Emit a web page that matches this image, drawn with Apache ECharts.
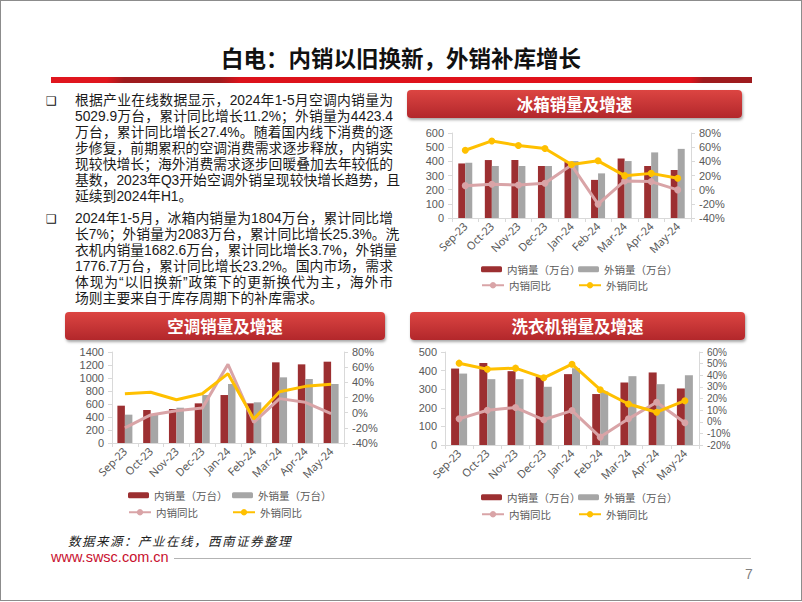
<!DOCTYPE html>
<html><head><meta charset="utf-8">
<script src="https://cdn.jsdelivr.net/npm/echarts@6/dist/echarts.min.js"></script>
<style>
html,body{margin:0;padding:0;background:#fff;}
#page{position:relative;width:802px;height:602px;overflow:hidden;font-family:"Noto Sans CJK SC","Noto Sans",sans-serif;background:#fff;}
#frame{position:absolute;left:0;top:0;width:800px;height:599px;border:1px solid #8c8c8c;}
#title{position:absolute;left:0;width:802px;top:42px;text-align:center;font-size:22.5px;font-weight:bold;color:#111;line-height:30px;}
#rule{position:absolute;left:51px;top:77px;width:701px;height:6px;background:linear-gradient(100deg,#e0161e 0%,#e0161e 8%,#9e1b1e 10.5%,#9e1b1e 24%,#dc121b 27%,#e3111b 91%,#9e1b1e 93%,#9e1b1e 100%);}
.para{position:absolute;left:75px;width:318px;font-family:"Liberation Sans","Noto Sans CJK SC",sans-serif;font-size:13.8px;line-height:16px;color:#1a1a1a;}
.para div{height:16px;text-align:justify;text-align-last:justify;white-space:nowrap;}
.para div.last{text-align-last:left;}
.bul{position:absolute;left:46px;font-family:"DejaVu Sans";font-size:12px;color:#111;line-height:16px;}
.hdr{position:absolute;height:28px;border-radius:4px;background:linear-gradient(#dc4542,#b2272b);box-shadow:1px 2px 3px rgba(0,0,0,0.35);color:#fff;font-weight:bold;font-size:16.5px;line-height:28px;text-align:center;}
#src{position:absolute;left:68px;top:531px;font-size:12.5px;font-style:italic;color:#222;letter-spacing:1.5px;font-family:"Noto Sans CJK SC";}
#web{position:absolute;left:51px;top:549px;font-size:14.5px;color:#c8102e;font-family:"Liberation Sans",Arial,sans-serif;}
#fline{position:absolute;left:174px;top:558px;width:577px;height:1px;background:#b3b3b3;}
#pnum{position:absolute;left:745px;top:566px;font-size:14px;color:#7f7f7f;font-family:"Liberation Sans",sans-serif;}
#chart{position:absolute;left:0;top:0;width:802px;height:602px;}
</style></head>
<body><div id="page">
<div id="frame"></div>
<div id="title">白电：内销以旧换新，外销补库增长</div>
<div id="rule"></div>
<div class="bul" style="top:93px">❑</div>
<div class="para" style="top:93px">
<div>根据产业在线数据显示，2024年1-5月空调内销量为</div>
<div>5029.9万台，累计同比增长11.2%；外销量为4423.4</div>
<div>万台，累计同比增长27.4%。随着国内线下消费的逐</div>
<div>步修复，前期累积的空调消费需求逐步释放，内销实</div>
<div>现较快增长；海外消费需求逐步回暖叠加去年较低的</div>
<div>基数，2023年Q3开始空调外销呈现较快增长趋势，且</div>
<div class="last">延续到2024年H1。</div>
</div>
<div class="bul" style="top:211px">❑</div>
<div class="para" style="top:211px">
<div>2024年1-5月，冰箱内销量为1804万台，累计同比增</div>
<div>长7%；外销量为2083万台，累计同比增长25.3%。洗</div>
<div>衣机内销量1682.6万台，累计同比增长3.7%，外销量</div>
<div>1776.7万台，累计同比增长23.2%。国内市场，需求</div>
<div>体现为“以旧换新”政策下的更新换代为主，海外市</div>
<div class="last">场则主要来自于库存周期下的补库需求。</div>
</div>
<div class="hdr" style="left:407px;top:90px;width:335px;">冰箱销量及增速</div>
<div class="hdr" style="left:65px;top:312px;width:320px;">空调销量及增速</div>
<div class="hdr" style="left:410px;top:312px;width:335px;">洗衣机销量及增速</div>
<div id="src">数据来源：产业在线，西南证券整理</div>
<div id="web">www.swsc.com.cn</div>
<div id="fline"></div>
<div id="pnum">7</div>
<div id="chart"></div>
</div>
<script>
// ---- data ----
var categories = ['Sep-23','Oct-23','Nov-23','Dec-23','Jan-24','Feb-24','Mar-24','Apr-24','May-24'];
var legendNames = ['内销量（万台）','外销量（万台）','内销同比','外销同比'];

var fridgeDomestic = [385, 409, 409, 367, 397, 269, 420, 367, 339];
var fridgeExport   = [390, 367, 367, 367, 402, 315, 402, 463, 488];
var fridgeDomYoY   = [5.7, 7.6, 6.7, 9.0, 34.7, -20.4, 12.3, 11.4, -0.3];
var fridgeExpYoY   = [55.7, 68.8, 62.3, 58.0, 35.6, 40.7, 19.8, 23.0, 16.0];
var fridgeLeftTicks = [0, 600, 100];
var fridgeRightTicks = [-40, 80, 20];

var acDomestic = [574, 508, 523, 610, 738, 610, 1241, 1210, 1251];
var acExport   = [436, 440, 543, 738, 908, 626, 1010, 985, 908];
var acDomYoY   = [-20.0, -3.0, 2.6, 6.0, 63.7, -12.7, 18.5, 13.6, -1.3];
var acExpYoY   = [25.0, 27.0, 17.0, 25.0, 51.4, -8.4, 27.7, 34.7, 37.4];
var acLeftTicks = [0, 1400, 200];
var acRightTicks = [-40, 80, 20];

var washDomestic = [411, 441, 397, 368, 381, 274, 336, 390, 304];
var washExport   = [384, 354, 354, 313, 413, 288, 370, 327, 375];
var washDomYoY   = [2.5, 9.9, 12.2, 1.7, 9.6, -13.2, 2.5, 16.8, -0.9];
var washExpYoY   = [50.4, 45.2, 46.1, 37.8, 49.5, 27.6, 15.3, 8.2, 18.1];
var washLeftTicks = [0, 500, 100];
var washRightTicks = [-20, 60, 10];

// ---- styles ----
var C_DOM = '#9c2f31', C_EXP = '#a6a6a6', C_DOMY = '#d9a4a7', C_EXPY = '#ffc000';
var AX = '#d9d9d9', LBL = '#595959';

var option = {grid:[], xAxis:[], yAxis:[], series:[], legend:[], animation:false};

function addChart(key, g, dom, exp, domY, expY, lt, rt, withSymbol, barW, leg, rFont){
  var gi = option.grid.length;
  option.grid.push({left:g[0], top:g[1], width:g[2], height:g[3], containLabel:false});
  option.xAxis.push({type:'category', gridIndex:gi, data:categories,
    axisLine:{lineStyle:{color:AX}}, axisTick:{show:true, length:4, lineStyle:{color:AX}},
    axisLabel:{rotate:45, color:LBL, fontSize:11, margin:6, interval:0, fontFamily:'Noto Sans'}});
  var yi = option.yAxis.length;
  option.yAxis.push({type:'value', gridIndex:gi, min:lt[0], max:lt[1], interval:lt[2],
    axisLine:{show:true, lineStyle:{color:AX}}, axisTick:{show:true, length:4, lineStyle:{color:AX}},
    splitLine:{show:false}, axisLabel:{color:LBL, fontSize:11, lineHeight:11, margin:8, fontFamily:'Liberation Sans',
      formatter:function(v){return String(v);}}});
  option.yAxis.push({type:'value', gridIndex:gi, position:'right', min:rt[0], max:rt[1], interval:rt[2],
    axisLine:{show:true, lineStyle:{color:AX}}, axisTick:{show:true, length:4, lineStyle:{color:AX}},
    splitLine:{show:false}, axisLabel:{color:LBL, fontSize:rFont, lineHeight:rFont, margin:8, fontFamily:'Liberation Sans',
      formatter:function(v){return v+'%';}}});
  var n = legendNames.map(function(s){return key+'|'+s;});
  option.series.push({name:n[0], type:'bar', xAxisIndex:gi, yAxisIndex:yi, data:dom, barWidth:barW, barGap:'0%', itemStyle:{color:C_DOM}});
  option.series.push({name:n[1], type:'bar', xAxisIndex:gi, yAxisIndex:yi, data:exp, barWidth:barW, barGap:'0%', itemStyle:{color:C_EXP}});
  option.series.push({name:n[2], type:'line', xAxisIndex:gi, yAxisIndex:yi+1, data:domY, z:5,
    showSymbol:withSymbol, symbol:withSymbol?'circle':'none', symbolSize:7,
    lineStyle:{color:C_DOMY, width:3}, itemStyle:{color:C_DOMY}});
  option.series.push({name:n[3], type:'line', xAxisIndex:gi, yAxisIndex:yi+1, data:expY, z:6,
    showSymbol:withSymbol, symbol:withSymbol?'circle':'none', symbolSize:7,
    lineStyle:{color:C_EXPY, width:3}, itemStyle:{color:C_EXPY}});
  for (var i=0;i<4;i++){
    var isBar = i<2;
    option.legend.push({data:[n[i]], left:leg[i][0], top:leg[i][1]-7, padding:0, selectedMode:false,
      itemWidth:isBar?21:22, itemHeight:isBar?6:8,
      formatter:function(s){return s.split('|')[1];},
      textStyle:{color:LBL, fontSize:10.5, fontFamily:'Noto Sans CJK SC', padding:[0,0,0,0]}});
  }
}

addChart('fr', [452,133,239,85], fridgeDomestic, fridgeExport, fridgeDomYoY, fridgeExpYoY,
  fridgeLeftTicks, fridgeRightTicks, true, 7, [[481,271],[578,271],[481,287],[578,287]], 11);
addChart('ac', [112,352,232,91], acDomestic, acExport, acDomYoY, acExpYoY,
  acLeftTicks, acRightTicks, false, 7.5, [[128,497],[232,497],[128,514],[232,514]], 11);
addChart('wa', [445,352,254,93], washDomestic, washExport, washDomYoY, washExpYoY,
  washLeftTicks, washRightTicks, true, 8, [[481,499],[578,499],[481,516],[578,516]], 10);

var chart = echarts.init(document.getElementById('chart'), null, {renderer:'svg'});
chart.setOption(option);
</script>
</body></html>
